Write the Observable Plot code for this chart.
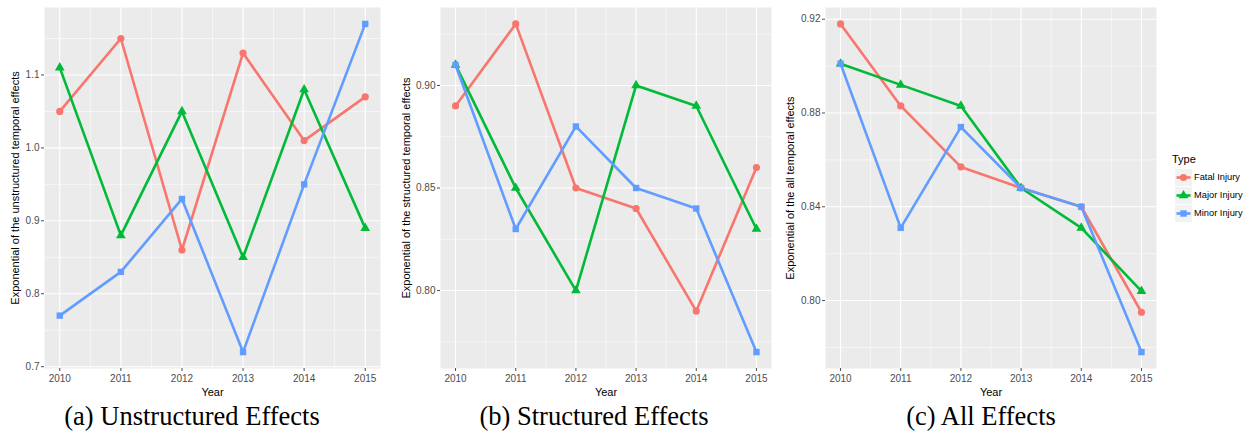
<!DOCTYPE html>
<html><head><meta charset="utf-8">
<script src="https://cdn.jsdelivr.net/npm/d3@7"></script>
<script src="https://cdn.jsdelivr.net/npm/@observablehq/plot@0.6"></script>
<style>
body{margin:0;background:#fff;}
#wrap{position:relative;width:1247px;height:434px;overflow:hidden;font-family:"Liberation Sans",Arial,sans-serif;}
.panel{position:absolute;top:0;}
.cap{position:absolute;top:403px;font-family:"Liberation Serif","Times New Roman",serif;font-size:26.5px;line-height:1;transform:translateX(-50%);white-space:nowrap;color:#000;}
.leg{position:absolute;font-family:"Liberation Sans",Arial,sans-serif;color:#000;}
</style></head><body><div id="wrap"></div>
<script>
const years = [2010, 2011, 2012, 2013, 2014, 2015];
const types = ["Fatal Injury", "Major Injury", "Minor Injury"];
const colors = ["#F8766D", "#00BA38", "#619CFF"];
const symbols = ["circle", "triangle", "square"];

// (a) Unstructured effects
const unstructFatal = [1.05, 1.15, 0.86, 1.13, 1.01, 1.07];
const unstructMajor = [1.11, 0.88, 1.05, 0.85, 1.08, 0.89];
const unstructMinor = [0.77, 0.83, 0.93, 0.72, 0.95, 1.17];
const unstructTicks = [0.7, 0.8, 0.9, 1.0, 1.1];
const unstructMinorTicks = [0.75, 0.85, 0.95, 1.05, 1.15];

// (b) Structured effects
const structFatal = [0.89, 0.93, 0.85, 0.84, 0.79, 0.86];
const structMajor = [0.91, 0.85, 0.80, 0.90, 0.89, 0.83];
const structMinor = [0.91, 0.83, 0.88, 0.85, 0.84, 0.77];
const structTicks = [0.80, 0.85, 0.90];
const structMinorTicks = [0.775, 0.825, 0.875, 0.925];

// (c) All effects
const allFatal = [0.918, 0.883, 0.857, 0.848, 0.840, 0.795];
const allMajor = [0.901, 0.892, 0.883, 0.848, 0.831, 0.804];
const allMinor = [0.901, 0.831, 0.874, 0.848, 0.840, 0.778];
const allTicks = [0.80, 0.84, 0.88, 0.92];
const allMinorTicks = [0.78, 0.82, 0.86, 0.90];

const yearMinorTicks = [2010.5, 2011.5, 2012.5, 2013.5, 2014.5];

const captions = ["(a) Unstructured Effects", "(b) Structured Effects", "(c) All Effects"];
const yTitles = ["Exponential of the unstructured temporal effects",
                 "Exponential of the structured temporal effects",
                 "Exponential of the all temporal effects"];

function table(series) {
  return series.flatMap((vals, i) => vals.map((v, j) => ({year: years[j], value: v, type: types[i]})));
}
function expand(ext) {
  const r = ext[1] - ext[0];
  return [ext[0] - 0.05 * r, ext[1] + 0.05 * r];
}

const wrap = document.getElementById("wrap");

function panel(cfg) {
  const data = table(cfg.series);
  const chart = Plot.plot({
    width: cfg.width, height: 405,
    marginLeft: cfg.ml, marginRight: cfg.mr, marginTop: 7, marginBottom: 37,
    style: {fontFamily: "Liberation Sans, Arial, sans-serif", fontSize: "10px", background: "transparent", overflow: "visible"},
    x: {domain: expand(d3.extent(years))},
    y: {domain: expand(d3.extent(data, d => d.value))},
    color: {domain: types, range: colors},
    symbol: {domain: types, range: symbols},
    marks: [
      Plot.frame({fill: "#EBEBEB", stroke: "none"}),
      Plot.gridX(yearMinorTicks, {stroke: "white", strokeOpacity: 1, strokeWidth: 0.55}),
      Plot.gridY(cfg.minor, {stroke: "white", strokeOpacity: 1, strokeWidth: 0.55}),
      Plot.gridX(years, {stroke: "white", strokeOpacity: 1, strokeWidth: 1.1}),
      Plot.gridY(cfg.ticks, {stroke: "white", strokeOpacity: 1, strokeWidth: 1.1}),
      Plot.axisX(years, {tickSize: 3, tickPadding: 3, tickFormat: "d", label: null, color: "#4d4d4d"}),
      Plot.axisY(cfg.ticks, {tickSize: 3, tickPadding: 2, tickFormat: d3.format(cfg.fmt), label: null, color: "#4d4d4d"}),
      Plot.text(["Year"], {frameAnchor: "bottom", dy: 27, fontSize: 11, fill: "#000"}),
      Plot.text([cfg.title], {frameAnchor: "left", textAnchor: "middle", rotate: -90, dx: cfg.titleDx, fontSize: 11, fill: "#000"}),
      Plot.line(data, {x: "year", y: "value", stroke: "type", strokeWidth: 2.6}),
      Plot.dot(data, {x: "year", y: "value", fill: "type", symbol: "type", r: 3.6})
    ]
  });
  chart.classList.add("panel");
  chart.style.left = cfg.left + "px";
  wrap.appendChild(chart);
  const cap = document.createElement("div");
  cap.className = "cap";
  cap.style.left = cfg.capX + "px";
  cap.textContent = cfg.caption;
  wrap.appendChild(cap);
}

panel({series: [unstructFatal, unstructMajor, unstructMinor], ticks: unstructTicks, minor: unstructMinorTicks, fmt: ".1f",
       title: yTitles[0], titleDx: -29, caption: captions[0], left: 0, width: 388, ml: 44, mr: 8, capX: 192});
panel({series: [structFatal, structMajor, structMinor], ticks: structTicks, minor: structMinorTicks, fmt: ".2f",
       title: yTitles[1], titleDx: -34, caption: captions[1], left: 400, width: 378, ml: 40, mr: 7, capX: 594});
panel({series: [allFatal, allMajor, allMinor], ticks: allTicks, minor: allMinorTicks, fmt: ".2f",
       title: yTitles[2], titleDx: -35, caption: captions[2], left: 780, width: 385, ml: 45, mr: 9, capX: 981});

// Legend
const legTitle = document.createElement("div");
legTitle.className = "leg";
legTitle.style.left = "1172px";
legTitle.style.top = "153px";
legTitle.style.fontSize = "11px";
legTitle.textContent = "Type";
wrap.appendChild(legTitle);
types.forEach((t, i) => {
  const top = 169 + i * 18;
  const ns = "http://www.w3.org/2000/svg";
  const svg = document.createElementNS(ns, "svg");
  svg.setAttribute("width", 17); svg.setAttribute("height", 17);
  svg.style.position = "absolute"; svg.style.left = "1175px"; svg.style.top = top + "px";
  const bg = document.createElementNS(ns, "rect");
  bg.setAttribute("width", 17); bg.setAttribute("height", 17); bg.setAttribute("fill", "#F2F2F2");
  svg.appendChild(bg);
  const ln = document.createElementNS(ns, "line");
  ln.setAttribute("x1", 1.5); ln.setAttribute("x2", 15.5); ln.setAttribute("y1", 8.5); ln.setAttribute("y2", 8.5);
  ln.setAttribute("stroke", colors[i]); ln.setAttribute("stroke-width", 2.6);
  svg.appendChild(ln);
  const sym = {circle: d3.symbolCircle, triangle: d3.symbolTriangle, square: d3.symbolSquare}[symbols[i]];
  const p = document.createElementNS(ns, "path");
  p.setAttribute("d", d3.symbol(sym, 3.6 * 3.6 * Math.PI)());
  p.setAttribute("transform", "translate(8.5,8.5)");
  p.setAttribute("fill", colors[i]);
  svg.appendChild(p);
  wrap.appendChild(svg);
  const lab = document.createElement("div");
  lab.className = "leg";
  lab.style.left = "1194px";
  lab.style.top = (top + 2) + "px";
  lab.style.fontSize = "9.3px";
  lab.style.lineHeight = "13px";
  lab.textContent = t;
  wrap.appendChild(lab);
});
</script></body></html>
